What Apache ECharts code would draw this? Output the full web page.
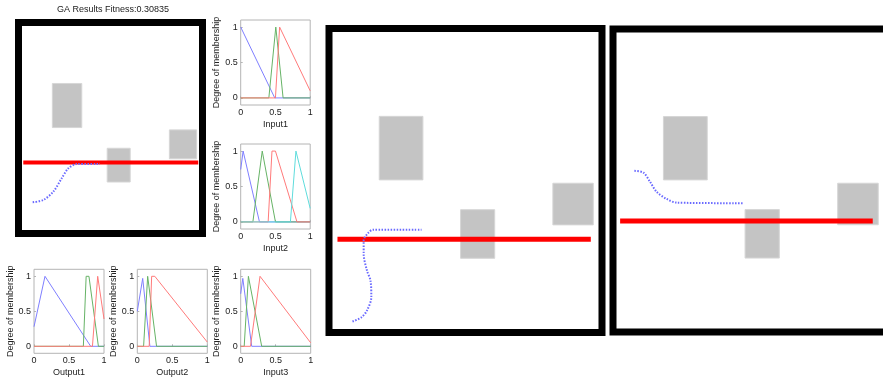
<!DOCTYPE html>
<html>
<head>
<meta charset="utf-8">
<script src="https://cdn.jsdelivr.net/npm/echarts@6/dist/echarts.min.js"></script>
<style>
  html, body { margin: 0; padding: 0; background: #fff; }
  #chart { width: 883px; height: 377px; }
</style>
</head>
<body>
<div id="chart"></div>
<script>
// arena world coords: 0..100 across each frame, y up
const obstacles = [
  [18.4, 50.2, 34.4, 71.1],
  [48.2, 24.4, 60.7, 40.4],
  [82.0, 35.4, 96.8, 49.1],
];

const wallGA = [[2.6, 33.7], [97.7, 33.7]];
const wallA = [[3.1, 30.7], [95.9, 30.7]];
const wallB = [[2.6, 36.6], [94.8, 36.6]];

const pathGA = [[7.7, 14.8], [13.5, 15.9], [18.9, 19.8], [23.5, 26.2], [27.1, 30.9], [31.6, 32.9], [44.3, 32.9]];
const pathA = [[8.6, 3.6], [11.9, 5.0], [13.9, 7.2], [15.5, 11.6], [15.2, 17.1], [13.9, 20.4], [12.7, 25.9],
  [12.7, 30.3], [14.3, 32.7], [16.1, 33.8], [33.9, 33.8]];
const pathB = [[7.8, 53.2], [11.1, 52.6], [13.5, 49.6], [15.9, 46.3], [19.6, 43.9], [23.2, 42.7], [47.3, 42.5]];

// membership functions, drawn blue, green, red, cyan
const mfTicks = [0, 0.5, 1];
const input1 = [
  [[0, 1], [0.49, 0], [1, 0]],
  [[0, 0], [0.405, 0], [0.505, 1], [0.61, 0], [1, 0]],
  [[0, 0], [0.5, 0], [0.56, 1], [1, 0.1]],
];
const input2 = [
  [[0, 0.74], [0.035, 1], [0.06, 1], [0.27, 0], [1, 0]],
  [[0, 0], [0.175, 0], [0.31, 1], [0.5, 0], [1, 0]],
  [[0, 0], [0.395, 0], [0.45, 1], [0.5, 1], [0.81, 0], [1, 0]],
  [[0, 0], [0.715, 0], [0.795, 1], [1, 0.19]],
];
const output1 = [
  [[0, 0.28], [0.157, 1], [0.81, 0], [1, 0]],
  [[0, 0], [0.705, 0], [0.745, 1], [0.785, 1], [0.92, 0], [1, 0]],
  [[0, 0], [0.835, 0], [0.91, 1], [1, 0.39]],
];
const output2 = [
  [[0, 0.5], [0.077, 0.97], [0.18, 0], [1, 0]],
  [[0, 0], [0.09, 0], [0.148, 1], [0.275, 0], [1, 0]],
  [[0, 0], [0.17, 0], [0.205, 1], [0.25, 1], [1, 0.06]],
];
const input3 = [
  [[0, 0.75], [0.03, 0.97], [0.157, 0], [1, 0]],
  [[0, 0], [0.05, 0], [0.11, 1], [0.135, 1], [0.3, 0], [1, 0]],
  [[0, 0], [0.14, 0], [0.276, 1], [1, 0.05]],
];

const MF_COLORS = ["#7f7fff", "#66b366", "#ff7a7a", "#5fdcdc"];
const FONT = "Liberation Sans, Arial, sans-serif";

const arenas = [
  { rect: { left: 18.5, top: 22.5, width: 184, height: 211 }, border: 7, wall: wallGA, wallWidth: 4, path: pathGA },
  { rect: { left: 329, top: 28.5, width: 273, height: 304 }, border: 7, wall: wallA, wallWidth: 5, path: pathA },
  { rect: { left: 613, top: 29, width: 274, height: 303 }, border: 7, wall: wallB, wallWidth: 5, path: pathB },
];

const mfPlots = [
  { name: "Input1", mfs: input1, rect: { left: 240.7, top: 20, width: 69.5, height: 85 } },
  { name: "Input2", mfs: input2, rect: { left: 240.7, top: 144, width: 69.5, height: 85 } },
  { name: "Output1", mfs: output1, rect: { left: 34, top: 269.3, width: 70, height: 84 } },
  { name: "Output2", mfs: output2, rect: { left: 137.3, top: 269.3, width: 70, height: 84 } },
  { name: "Input3", mfs: input3, rect: { left: 240.7, top: 269.3, width: 70, height: 84 } },
];

const grid = [];
const xAxis = [];
const yAxis = [];
const series = [];

arenas.forEach((arena, i) => {
  grid.push({
    ...arena.rect,
    outerBoundsMode: "none",
    show: true,
    borderColor: "#000",
    borderWidth: arena.border,
    backgroundColor: "#fff",
  });
  xAxis.push({ gridIndex: i, type: "value", min: 0, max: 100, show: false });
  yAxis.push({ gridIndex: i, type: "value", min: 0, max: 100, show: false });

  series.push({
    type: "custom",
    xAxisIndex: i,
    yAxisIndex: i,
    z: 2,
    data: obstacles,
    renderItem: (params, api) => {
      const p0 = api.coord([api.value(0), api.value(3)]);
      const p1 = api.coord([api.value(2), api.value(1)]);
      return {
        type: "rect",
        shape: { x: p0[0], y: p0[1], width: p1[0] - p0[0], height: p1[1] - p0[1] },
        style: { fill: "#c4c4c4", stroke: "#d6d6d6", lineWidth: 1 },
      };
    },
  });
  series.push({
    type: "line",
    xAxisIndex: i,
    yAxisIndex: i,
    z: 3,
    data: arena.wall,
    showSymbol: false,
    lineStyle: { color: "#ff0000", width: arena.wallWidth },
  });
  series.push({
    type: "line",
    xAxisIndex: i,
    yAxisIndex: i,
    z: 4,
    data: arena.path,
    smooth: 0.3,
    showSymbol: false,
    lineStyle: { color: "#6a6aff", width: 2, type: [1.5, 1.5] },
  });
});

mfPlots.forEach((plot, j) => {
  const idx = arenas.length + j;
  grid.push({
    ...plot.rect,
    outerBoundsMode: "none",
    show: true,
    borderColor: "#b4b4b4",
    borderWidth: 1,
    backgroundColor: "#fff",
  });
  xAxis.push({
    gridIndex: idx,
    type: "value",
    min: 0,
    max: 1,
    interval: 0.5,
    name: plot.name,
    nameLocation: "middle",
    nameGap: 15,
    nameTextStyle: { fontSize: 9, color: "#222", fontFamily: FONT },
    axisLine: { show: false },
    axisTick: { inside: true, length: 2, lineStyle: { color: "#b4b4b4" } },
    axisLabel: { margin: 3, fontSize: 9, color: "#222", fontFamily: FONT },
    splitLine: { show: false },
  });
  yAxis.push({
    gridIndex: idx,
    type: "value",
    min: -0.1,
    max: 1.1,
    name: "Degree of membership",
    nameLocation: "middle",
    nameRotate: 90,
    nameGap: 19,
    nameTextStyle: { fontSize: 9, color: "#222", fontFamily: FONT },
    axisLine: { show: false },
    axisTick: { inside: true, length: 2, customValues: mfTicks, lineStyle: { color: "#b4b4b4" } },
    axisLabel: { margin: 3, fontSize: 9, color: "#222", fontFamily: FONT, customValues: mfTicks },
    splitLine: { show: false },
  });
  plot.mfs.forEach((mf, k) => {
    series.push({
      type: "line",
      xAxisIndex: idx,
      yAxisIndex: idx,
      data: mf,
      showSymbol: false,
      lineStyle: { color: MF_COLORS[k], width: 1 },
    });
  });
});

const chart = echarts.init(document.getElementById("chart"));
chart.setOption({
  animation: false,
  backgroundColor: "#fff",
  title: {
    text: "GA Results Fitness:0.30835",
    left: 57,
    top: 5,
    padding: 0,
    textStyle: { fontSize: 9, fontWeight: "normal", color: "#222", fontFamily: FONT },
  },
  grid,
  xAxis,
  yAxis,
  series,
});
</script>
</body>
</html>
